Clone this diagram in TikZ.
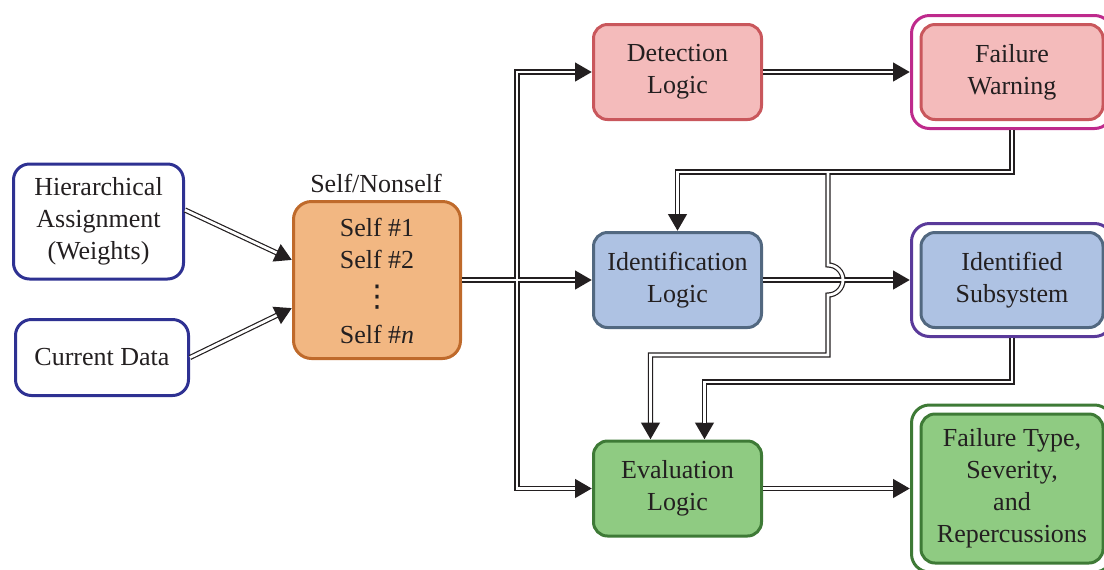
\documentclass[tikz,border=0pt]{standalone}
\usepackage{fontspec}
\setmainfont{Liberation Serif}
\newfontfamily\dotsfont{DejaVu Sans}
\usetikzlibrary{arrows.meta,calc}
\definecolor{txt}{HTML}{231F20}
\definecolor{lk}{HTML}{231F20}
\definecolor{navy}{HTML}{2E3192}
\definecolor{orfill}{HTML}{F2B782}
\definecolor{ordraw}{HTML}{BF6A2B}
\definecolor{rdfill}{HTML}{F4BBBB}
\definecolor{rddraw}{HTML}{C9575C}
\definecolor{mgt}{HTML}{BE2A8C}
\definecolor{blfill}{HTML}{AEC2E3}
\definecolor{bldraw}{HTML}{526880}
\definecolor{purp}{HTML}{5A3A9A}
\definecolor{grfill}{HTML}{8FCB82}
\definecolor{grdraw}{HTML}{3E7A36}
\newcommand\myconns{%
  \draw[arr] ($(hier.east)+(0,-11.5)$) -- ($(self.west)+(0,-20)$);
  \draw[arr] (cur.east) -- ($(self.west)+(0,28)$);
  \draw[arr] (self.east) -- (ident.west);
  \draw[arr] (j1) |- (det.west);
  \draw[arr] (j1) |- (eval.west);
  \draw[arr] (det.east) -- (fwo.west);
  \draw[arr] (ident.east) -- (idso.west);
  \draw[arr] (eval.east) -- (fto.west);
  \draw[arr] (fwo.south) -- (h1) -| (ident.north);
  \draw[arr] (h2) -- (hp) arc[start angle=90,end angle=-90,radius=7.5pt] -- (k1) -| ($(eval.north)+(-27,0)$);
  \draw[arr] (idso.south) -- (h3) -| ($(eval.north)+(27,0)$);
}
\begin{document}
\begin{tikzpicture}[x=0.5pt,y=-0.5pt,
  every node/.style={font=\fontsize{13}{16}\selectfont, text=txt, align=center},
  box/.style={draw, rounded corners=7pt, line width=1.5pt, inner sep=0pt},
  obox/.style={draw, rounded corners=9pt, line width=1.5pt, inner sep=0pt, fill=white},
  lbl/.style={inner sep=0pt},
  layout/.style={lk, line width=2.6pt, arr/.style={-{Triangle[length=8.5pt,width=9pt]}}},
  layin/.style={white, line width=1.4pt, arr/.style={shorten >=8.5pt}}]
\useasboundingbox (0,0) rectangle (1104,569);

% left inputs
\node[box, draw=navy, fill=white, rounded corners=8pt, minimum width=85pt, minimum height=57.5pt] (hier) at (98.5,221.5) {Hierarchical\\Assignment\\(Weights)};
\node[box, draw=navy, fill=white, rounded corners=8pt, minimum width=86.5pt, minimum height=38pt] (cur) at (102,357.5) {Current Data};

% self/nonself
\node[box, draw=ordraw, fill=orfill, rounded corners=9pt, minimum width=83.5pt, minimum height=78.5pt] (self) at (377,280) {};
\node (stitle) at (376,183) {Self/Nonself};
\node[lbl] (s1) at (377,227) {Self \#1};
\node[lbl] (s2) at (377,259) {Self \#2};
\node[lbl, font=\dotsfont\fontsize{15}{15}\selectfont] (sd) at (377,297.5) {⋮};
\node[lbl] (sn) at (377,334) {Self \#\textit{n}};

% logic boxes
\node[box, draw=rddraw, fill=rdfill, minimum width=84pt, minimum height=47.5pt] (det) at (677.5,72) {Detection\\Logic};
\node[box, draw=bldraw, fill=blfill, minimum width=84pt, minimum height=47.5pt] (ident) at (677.5,280) {Identification\\Logic};
\node[box, draw=grdraw, fill=grfill, minimum width=84pt, minimum height=47.5pt] (eval) at (677.5,488.5) {Evaluation\\Logic};

% output boxes (double framed)
\node[obox, draw=mgt, minimum width=100.5pt, minimum height=56.5pt] (fwo) at (1012,72) {};
\node[box, draw=rddraw, fill=rdfill, minimum width=91pt, minimum height=47.5pt] (fw) at (1012,72) {Failure\\Warning};
\node[obox, draw=purp, minimum width=100.5pt, minimum height=56.5pt] (idso) at (1012,280) {};
\node[box, draw=bldraw, fill=blfill, minimum width=91pt, minimum height=47.5pt] (ids) at (1012,280) {Identified\\Subsystem};
\node[obox, draw=grdraw, minimum width=100.5pt, minimum height=83.5pt] (fto) at (1012,488.5) {};
\node[box, draw=grdraw, fill=grfill, minimum width=91pt, minimum height=74.5pt] (ft) at (1012,488.5) {Failure Type,\\Severity,\\and\\Repercussions};

% junction points
\coordinate (j1) at (517,280);
\coordinate (h1) at (1012,172);
\coordinate (h2) at (828,172);
\coordinate (hp) at (828,265);
\coordinate (k1) at (828,355);
\coordinate (h3) at (1012,382);

\begin{scope}[layout]\myconns\end{scope}
\begin{scope}[layin]\myconns\end{scope}
\end{tikzpicture}
\end{document}
